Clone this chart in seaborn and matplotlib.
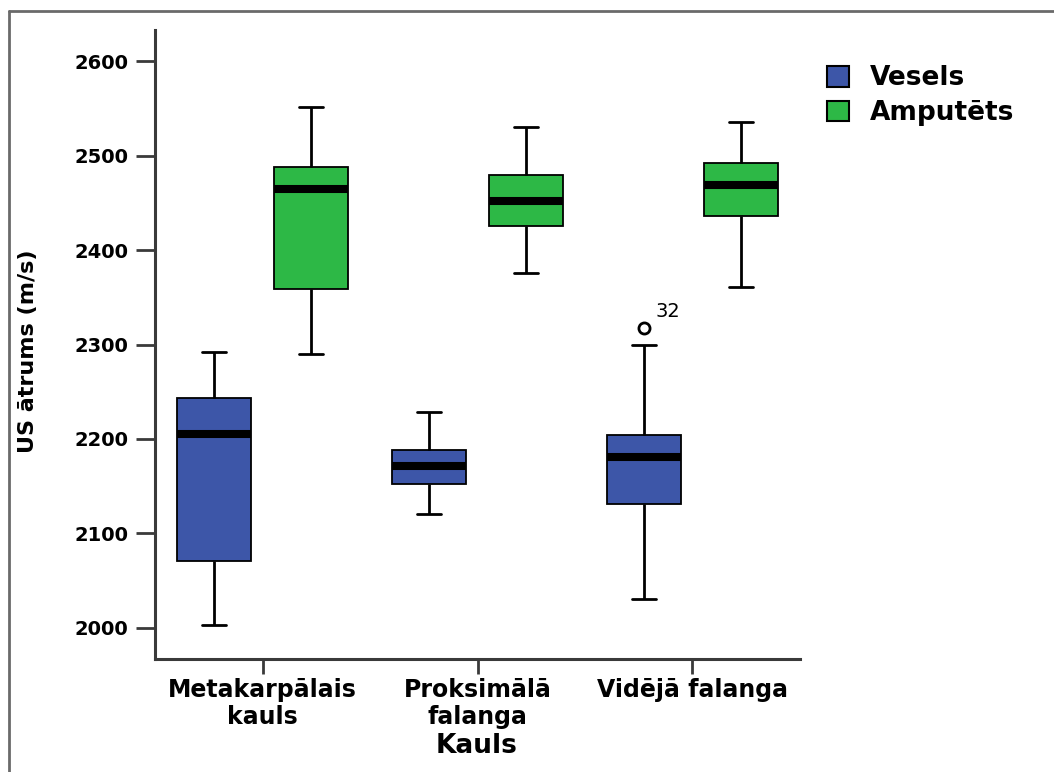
import numpy as np
import pandas as pd
import matplotlib
matplotlib.use("Agg")
import matplotlib.pyplot as plt
from matplotlib.lines import Line2D
from matplotlib.patches import Patch
import seaborn as sns

# ---- data ----
categories = ["Metakarpālais\nkauls", "Proksimālā\nfalanga", "Vidējā falanga"]
groups = ["Vesels", "Amputēts"]
# five-number summaries per category: low whisker, Q1, median, Q3, high whisker
vesels_low = [2003, 2120, 2030]
vesels_q1 = [2071, 2152, 2131]
vesels_med = [2205, 2171, 2181]
vesels_q3 = [2243, 2188, 2204]
vesels_high = [2292, 2229, 2300]
amput_low = [2290, 2376, 2361]
amput_q1 = [2359, 2425, 2436]
amput_med = [2465, 2452, 2469]
amput_q3 = [2488, 2479, 2492]
amput_high = [2551, 2530, 2536]
# outlier (case 32) in Vesels, Vidējā falanga
outlier_cat = 2
outlier_value = 2318
outlier_label = "32"

colors = {"Vesels": "#3d56a8", "Amputēts": "#2db846"}

# build samples reproducing the summaries (9 points -> quartiles at idx 2,4,6)
rows = []
def add(group, cat, lo, q1, med, q3, hi, extra=None):
    vals = [lo, q1, q1, med, med, med, q3, q3, hi]
    if extra is not None:
        vals = [lo, q1, q1, med, med, med, q3, hi, extra]
    for v in vals:
        rows.append({"Kauls": cat, "grupa": group, "v": v})

for i, c in enumerate(categories):
    add("Vesels", c, vesels_low[i], vesels_q1[i], vesels_med[i], vesels_q3[i], vesels_high[i],
        outlier_value if i == outlier_cat else None)
    add("Amputēts", c, amput_low[i], amput_q1[i], amput_med[i], amput_q3[i], amput_high[i])
df = pd.DataFrame(rows)

sns.set_style("white")
plt.rcParams["font.family"] = ["DejaVu Sans"]
plt.rcParams["text.color"] = "black"
plt.rcParams["axes.labelcolor"] = "black"
plt.rcParams["xtick.color"] = "black"
plt.rcParams["ytick.color"] = "black"

fig = plt.figure(figsize=(10.54, 7.72), dpi=100)
ax = fig.add_axes([0.1471, 0.1464, 0.759 - 0.1471, 0.9611 - 0.1464])

width = 0.9
sns.boxplot(data=df, x="Kauls", y="v", hue="grupa", order=categories, hue_order=groups,
            palette=colors, saturation=1, width=width, gap=0.23, whis=1.5,
            linecolor="black", linewidth=2,
            medianprops={"linewidth": 5.8, "color": "black"},
            boxprops={"linewidth": 1.3},
            flierprops={"marker": "o", "markerfacecolor": "none", "markeredgecolor": "black",
                        "markeredgewidth": 2, "markersize": 8},
            capwidths=0.11,
            legend=False, ax=ax)

ax.set_ylim(1967, 2633)
ax.set_xlim(-0.5, 2.5)
ax.set_yticks([2000, 2100, 2200, 2300, 2400, 2500, 2600])
for s in ["top", "right"]:
    ax.spines[s].set_visible(False)
for s in ["left", "bottom"]:
    ax.spines[s].set_color("#3a3a3a")
    ax.spines[s].set_linewidth(2.2)
ax.tick_params(axis="y", direction="out", length=14, width=2, color="#3a3a3a", left=True, pad=5)
ax.tick_params(axis="x", direction="out", length=11, width=2, color="#3a3a3a", bottom=True, pad=3)
for lab in ax.get_yticklabels():
    lab.set_fontsize(14)
    lab.set_fontweight("bold")
for lab in ax.get_xticklabels():
    lab.set_fontsize(17)
    lab.set_fontweight("bold")
    lab.set_linespacing(1.15)
ax.set_xlabel("Kauls", fontsize=19, fontweight="bold")
ax.xaxis.set_label_coords(0.499, -0.117)
ax.set_ylabel("US ātrums (m/s)", fontsize=16, fontweight="bold")
ax.yaxis.set_label_coords(-0.182, 0.49)

# outlier label
slot = width / len(groups)
ox = outlier_cat - slot / 2
ax.annotate(outlier_label, xy=(ox, outlier_value), xytext=(8, 5), textcoords="offset points",
            fontsize=14, ha="left", va="bottom")

# legend
handles = [Patch(facecolor=colors[g], edgecolor="black", linewidth=1.5, label=g) for g in groups]
leg = fig.legend(handles=handles, loc="upper left", bbox_to_anchor=(0.7625, 0.946),
                 frameon=False, prop={"size": 19, "weight": "bold"},
                 handlelength=0.83, handleheight=0.83, handletextpad=0.76, labelspacing=0.33)

# outer frame (top and left edges visible)
fig.add_artist(Line2D([9 / 1054, 1.0], [1 - 11 / 772, 1 - 11 / 772], transform=fig.transFigure,
                      color="#6a6a6a", linewidth=2))
fig.add_artist(Line2D([9 / 1054, 9 / 1054], [0, 1 - 11 / 772], transform=fig.transFigure,
                      color="#6a6a6a", linewidth=2))

fig.savefig("out.png", dpi=100)
